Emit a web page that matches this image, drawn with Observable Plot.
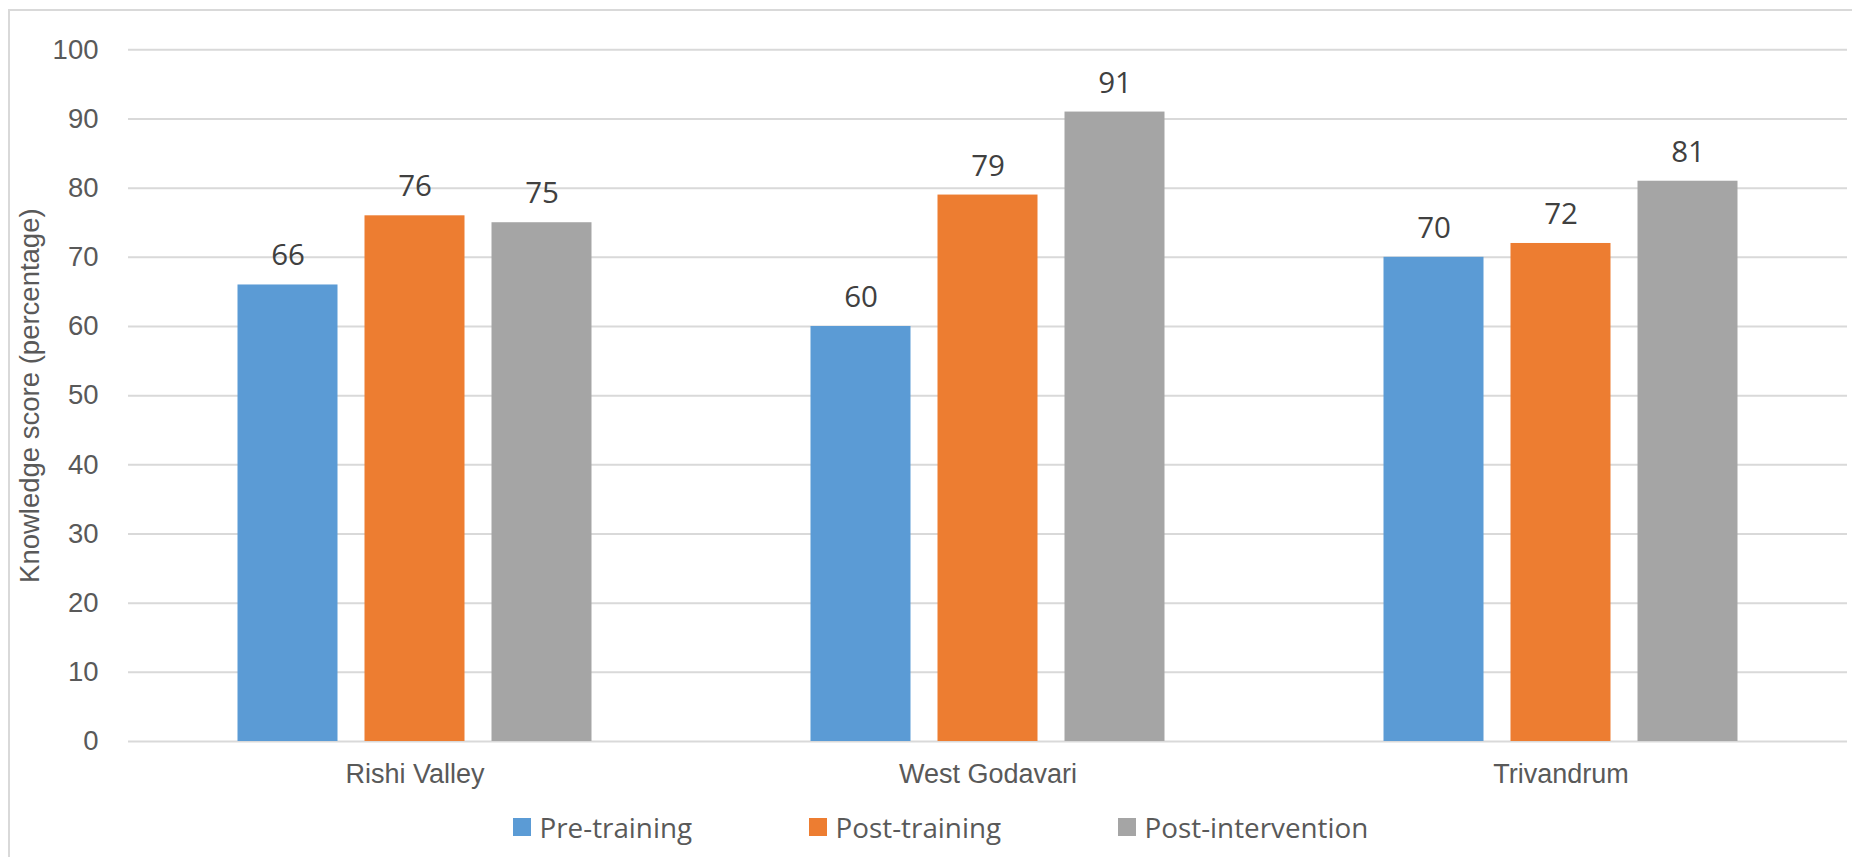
<!DOCTYPE html>
<html>
<head>
<meta charset="utf-8">
<script src="https://cdn.jsdelivr.net/npm/d3@7"></script>
<script src="https://cdn.jsdelivr.net/npm/@observablehq/plot@0.6"></script>
<style>
  html, body { margin: 0; padding: 0; background: #fff; overflow: hidden; }
  #chart { position: relative; width: 1852px; height: 857px; overflow: hidden; }
  #frame { position: absolute; left: 8px; top: 9px; width: 1900px; height: 900px;
           border-left: 2px solid #d9d9d9; border-top: 2px solid #d9d9d9; box-sizing: border-box; }
  #plot { position: absolute; left: 0; top: 0; }
  #legend { position: absolute; left: 513px; top: 818px; display: flex; align-items: center; gap: 117px;
            font-family: "Open Sans", "Noto Sans", sans-serif; font-size: 27.8px; color: #595959; }
  #legend .item { display: flex; align-items: center; gap: 9px; height: 18px; }
  #legend .swatch { width: 17.5px; height: 17.5px; flex: none; }
  #legend .label { line-height: 18px; white-space: nowrap; }
</style>
</head>
<body>
<div id="chart">
  <div id="frame"></div>
  <div id="plot"></div>
  <div id="legend"></div>
</div>
<script>
// Study sites, one group of bars each
const categories = ["Rishi Valley", "West Godavari", "Trivandrum"];
// Measurement rounds, one bar per site
const series = ["Pre-training", "Post-training", "Post-intervention"];
// Knowledge scores (%) per site, in the order of `categories`
const preTraining = [66, 60, 70];
const postTraining = [76, 79, 72];
const postIntervention = [75, 91, 81];
const seriesColors = ["#5b9bd5", "#ed7d31", "#a5a5a5"];
const yTicks = [0, 10, 20, 30, 40, 50, 60, 70, 80, 90, 100];
const yTitle = "Knowledge score (percentage)";

const valuesBySeries = [preTraining, postTraining, postIntervention];
const rows = categories.flatMap((site, i) =>
  series.map((s, j) => ({site, series: s, value: valuesBySeries[j][i]}))
);

const chart = Plot.plot({
  width: 1852,
  height: 790,
  marginLeft: 127.5,
  marginRight: 5.5,
  marginTop: 49.3,
  marginBottom: 49,
  style: {fontFamily: "'Liberation Sans', Arial, sans-serif", background: "transparent", overflow: "visible"},
  fx: {domain: categories, padding: 0},
  x: {domain: series, paddingInner: 27 / 127, paddingOuter: 0.862, axis: null},
  y: {domain: [0, 100]},
  color: {domain: series, range: seriesColors},
  marks: [
    Plot.gridY(yTicks, {stroke: "#d9d9d9", strokeOpacity: 1, strokeWidth: 2}),
    Plot.barY(rows, {fx: "site", x: "series", y: "value", fill: "series", inset: 0}),
    Plot.text(rows, {
      fx: "site", x: "series", y: "value",
      text: d => String(d.value),
      dy: -29,
      fontSize: 29.5,
      fontFamily: "'Open Sans', 'Noto Sans', sans-serif",
      fill: "#404040"
    }),
    Plot.axisY(yTicks, {
      tickSize: 0,
      tickPadding: 30,
      fontSize: 27.5,
      fill: "#595959",
      label: yTitle,
      labelAnchor: "center",
      labelArrow: "none",
      labelOffset: 109
    }),
    Plot.axisFx({
      anchor: "bottom",
      tickSize: 0,
      tickPadding: 22,
      fontSize: 27,
      fill: "#595959",
      label: null
    })
  ]
});
document.getElementById("plot").appendChild(chart);

// Legend: one swatch and name per series
const legend = d3.select("#legend");
series.forEach((s, i) => {
  const item = legend.append("div").attr("class", "item");
  item.append("div").attr("class", "swatch").style("background", seriesColors[i]);
  item.append("span").attr("class", "label").text(s);
});
</script>
</body>
</html>
